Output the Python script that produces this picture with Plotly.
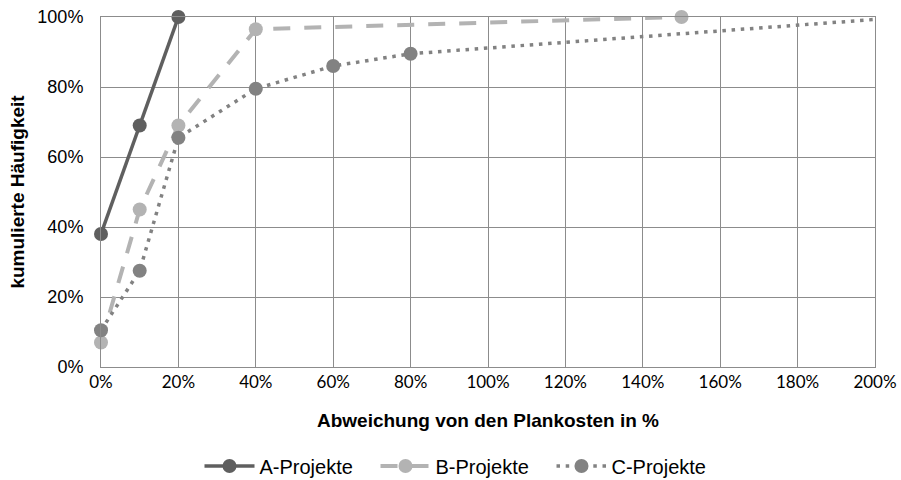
import plotly.graph_objects as go

# Data
a_x = [0, 10, 20]
a_y = [38, 69, 100]
b_x = [0, 10, 20, 40, 150]
b_y = [7, 45, 69, 96.5, 100]
c_x = [0, 10, 20, 40, 60, 80, 200]
c_y = [10.5, 27.5, 65.5, 79.5, 86, 89.5, 99.3]
c_has_marker = [1, 1, 1, 1, 1, 1, 0]

x_ticks = [0, 20, 40, 60, 80, 100, 120, 140, 160, 180, 200]
y_ticks = [0, 20, 40, 60, 80, 100]

col_a, col_b, col_c = "#5f5f5f", "#b3b3b3", "#828282"

fig = go.Figure()
fig.add_trace(go.Scatter(x=a_x, y=a_y, name="A-Projekte", mode="lines+markers",
                         line=dict(color=col_a, width=3.5),
                         marker=dict(color=col_a, size=14)))
fig.add_trace(go.Scatter(x=b_x, y=b_y, name="B-Projekte", mode="lines+markers",
                         line=dict(color=col_b, width=4, dash="17px,14px"),
                         marker=dict(color=col_b, size=14)))
fig.add_trace(go.Scatter(x=c_x, y=c_y, name="C-Projekte", mode="lines+markers",
                         line=dict(color=col_c, width=3.5, dash="3.5px,5.7px"),
                         marker=dict(color=[col_c if m else "rgba(0,0,0,0)" for m in c_has_marker],
                                     size=14)))

grid = "#8c8c8c"
fig.update_layout(
    width=901, height=480,
    margin=dict(l=101, r=26, t=17, b=113),
    plot_bgcolor="white", paper_bgcolor="white",
    showlegend=True,
    legend=dict(orientation="h", xref="container", yref="container",
                x=0.5 + 13 / 901, xanchor="center", y=1 - 466 / 480, yanchor="middle",
                font=dict(family="Liberation Sans, Arial", size=20, color="#000"),
                itemwidth=50, entrywidth=111),
    xaxis=dict(range=[0, 200], tickvals=x_ticks, ticktext=[f"{v}%" for v in x_ticks],
               showgrid=True, gridcolor=grid, gridwidth=1, automargin=False,
               showline=True, linecolor=grid, linewidth=1, mirror=True,
               zeroline=False, ticks="", ticklen=0, ticklabelstandoff=0,
               tickfont=dict(family="Lato, Carlito, Calibri", size=17, color="#000"),
               title=dict(text="<b>Abweichung von den Plankosten in %</b>",
                          font=dict(family="Liberation Sans, Arial", size=19, color="#000"),
                          standoff=22)),
    yaxis=dict(range=[0, 100], tickvals=y_ticks, ticktext=[f"{v}%" for v in y_ticks],
               showgrid=True, gridcolor=grid, gridwidth=1, automargin=False,
               showline=True, linecolor=grid, linewidth=1, mirror=True,
               zeroline=False, ticks="", ticklen=0, ticklabelstandoff=13,
               tickfont=dict(family="Liberation Sans, Arial", size=18, color="#000"),
               title=dict(text="<b>kumulierte Häufigkeit</b>",
                          font=dict(family="Liberation Sans, Arial", size=19, color="#000"),
                          standoff=7)),
)
fig.update_traces(cliponaxis=False)

fig.write_html("out.html", config={"displayModeBar": False},
               post_script="document.body.style.margin='0';")
